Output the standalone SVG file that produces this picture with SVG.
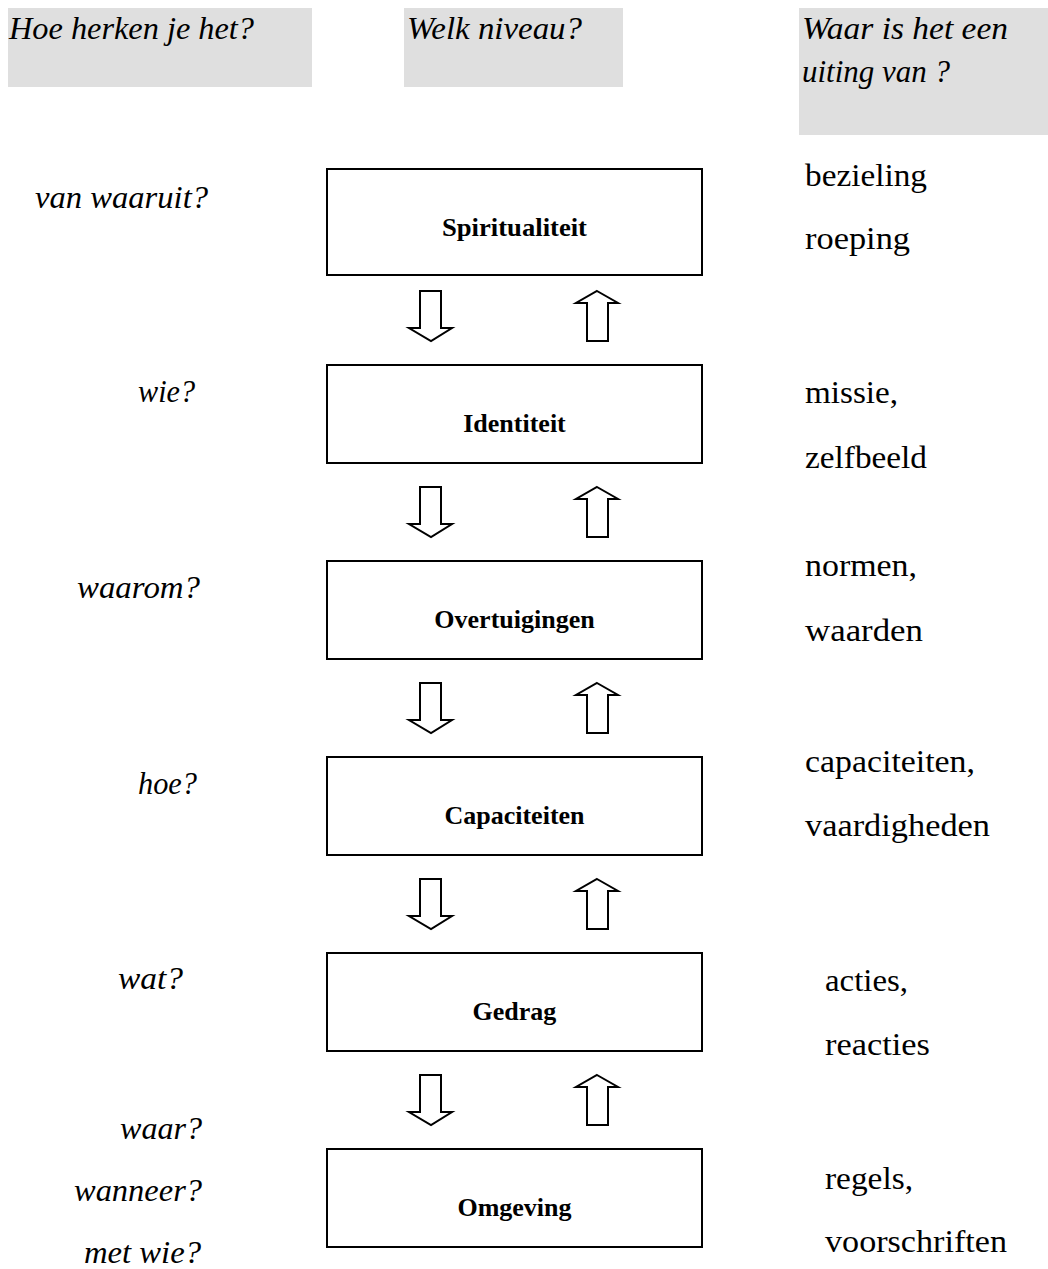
<svg xmlns="http://www.w3.org/2000/svg" width="1048" height="1269" viewBox="0 0 1048 1269">
<style>
.hdr{fill:#dfdfdf}
.q{font-family:"Liberation Serif",serif;font-style:italic;font-size:31px;fill:#000}
.r{font-family:"Liberation Serif",serif;font-size:32px;fill:#000}
.box{fill:#fff;stroke:#000;stroke-width:2}
.lbl{font-family:"Liberation Serif",serif;font-weight:bold;font-size:26px;fill:#000;text-anchor:middle}
.arr{fill:#fff;stroke:#000;stroke-width:2;stroke-linejoin:miter}
</style>
<rect width="1048" height="1269" fill="#fff"/>
<g id="header-herkennen">
<rect class="hdr" x="8" y="8" width="304" height="79"/>
<text class="q" x="9" y="39" textLength="245" lengthAdjust="spacingAndGlyphs">Hoe herken je het?</text>
</g>
<g id="header-niveau">
<rect class="hdr" x="404" y="8" width="219" height="79"/>
<text class="q" x="407" y="39" textLength="175" lengthAdjust="spacingAndGlyphs">Welk niveau?</text>
</g>
<g id="header-uiting">
<rect class="hdr" x="799" y="8" width="249" height="127"/>
<text class="q" x="802" y="39" textLength="206" lengthAdjust="spacingAndGlyphs">Waar is het een</text>
<text class="q" x="802" y="82" textLength="148" lengthAdjust="spacingAndGlyphs">uiting van ?</text>
</g>
<g id="left-labels">
<text class="q" x="35" y="208" textLength="173" lengthAdjust="spacingAndGlyphs">van waaruit?</text>
<text class="q" x="138" y="402" textLength="57" lengthAdjust="spacingAndGlyphs">wie?</text>
<text class="q" x="77" y="598" textLength="123" lengthAdjust="spacingAndGlyphs">waarom?</text>
<text class="q" x="138" y="794" textLength="59" lengthAdjust="spacingAndGlyphs">hoe?</text>
<text class="q" x="118" y="989" textLength="65" lengthAdjust="spacingAndGlyphs">wat?</text>
<text class="q" x="120" y="1139" textLength="82" lengthAdjust="spacingAndGlyphs">waar?</text>
<text class="q" x="74" y="1201" textLength="128" lengthAdjust="spacingAndGlyphs">wanneer?</text>
<text class="q" x="84" y="1263" textLength="117" lengthAdjust="spacingAndGlyphs">met wie?</text>
</g>
<g id="right-labels">
<text class="r" x="805" y="186" textLength="122" lengthAdjust="spacingAndGlyphs">bezieling</text>
<text class="r" x="805" y="249" textLength="105" lengthAdjust="spacingAndGlyphs">roeping</text>
<text class="r" x="805" y="403" textLength="93" lengthAdjust="spacingAndGlyphs">missie,</text>
<text class="r" x="805" y="468" textLength="122" lengthAdjust="spacingAndGlyphs">zelfbeeld</text>
<text class="r" x="805" y="576" textLength="112" lengthAdjust="spacingAndGlyphs">normen,</text>
<text class="r" x="805" y="641" textLength="118" lengthAdjust="spacingAndGlyphs">waarden</text>
<text class="r" x="805" y="772" textLength="170" lengthAdjust="spacingAndGlyphs">capaciteiten,</text>
<text class="r" x="805" y="836" textLength="185" lengthAdjust="spacingAndGlyphs">vaardigheden</text>
<text class="r" x="825" y="991" textLength="83" lengthAdjust="spacingAndGlyphs">acties,</text>
<text class="r" x="825" y="1055" textLength="105" lengthAdjust="spacingAndGlyphs">reacties</text>
<text class="r" x="825" y="1189" textLength="88" lengthAdjust="spacingAndGlyphs">regels,</text>
<text class="r" x="825" y="1252" textLength="182" lengthAdjust="spacingAndGlyphs">voorschriften</text>
</g>
<g id="node-spiritualiteit">
<rect class="box" x="327" y="169" width="375" height="106"/>
<text class="lbl" x="514.5" y="236" textLength="145" lengthAdjust="spacingAndGlyphs">Spiritualiteit</text>
</g>
<g id="node-identiteit">
<rect class="box" x="327" y="365" width="375" height="98"/>
<text class="lbl" x="514.5" y="432">Identiteit</text>
</g>
<g id="node-overtuigingen">
<rect class="box" x="327" y="561" width="375" height="98"/>
<text class="lbl" x="514.5" y="628">Overtuigingen</text>
</g>
<g id="node-capaciteiten">
<rect class="box" x="327" y="757" width="375" height="98"/>
<text class="lbl" x="514.5" y="824">Capaciteiten</text>
</g>
<g id="node-gedrag">
<rect class="box" x="327" y="953" width="375" height="98"/>
<text class="lbl" x="514.5" y="1020">Gedrag</text>
</g>
<g id="node-omgeving">
<rect class="box" x="327" y="1149" width="375" height="98"/>
<text class="lbl" x="514.5" y="1216">Omgeving</text>
</g>
<defs>
<path id="down" class="arr" d="M420,291 L441,291 L441,328 L452,328 L431,341 L409,328 L420,328 Z"/>
<path id="up" class="arr" d="M597,291 L618,303 L608,303 L608,341 L587,341 L587,303 L576,303 Z"/>
</defs>
<g id="connectors">
<use href="#down"/><use href="#up"/>
<use href="#down" y="196"/><use href="#up" y="196"/>
<use href="#down" y="392"/><use href="#up" y="392"/>
<use href="#down" y="588"/><use href="#up" y="588"/>
<use href="#down" y="784"/><use href="#up" y="784"/>
</g>
</svg>
